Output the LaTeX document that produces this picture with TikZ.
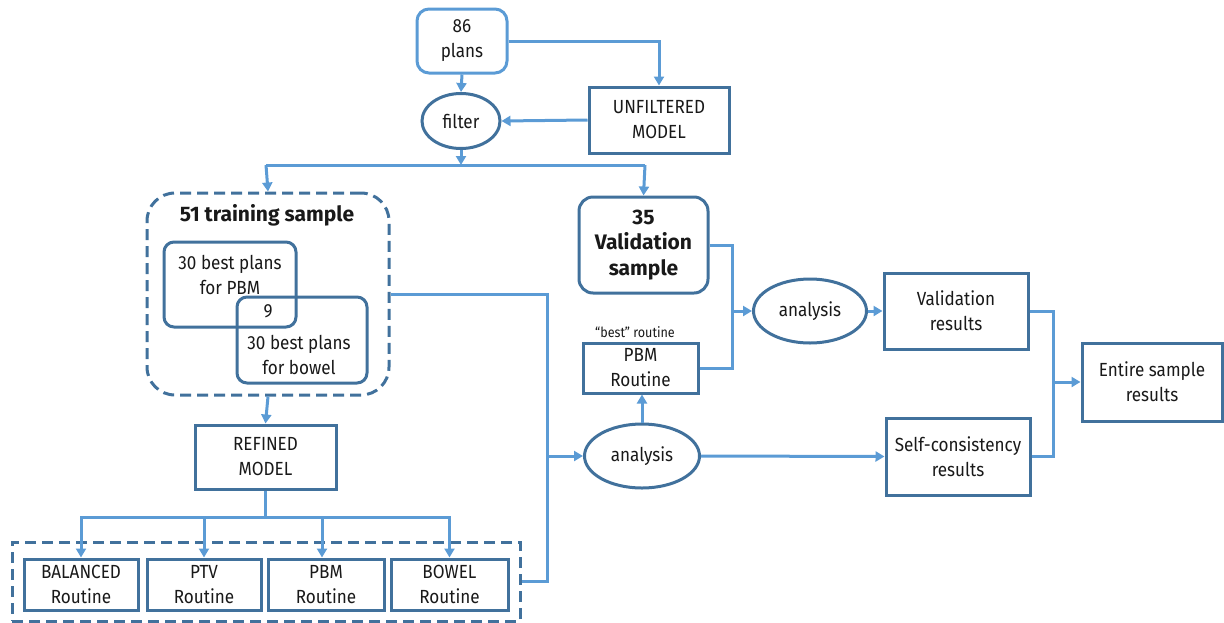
\documentclass[tikz,border=0pt]{standalone}
\usepackage{fontspec}
\setmainfont{Fira Sans}[FakeStretch=0.9,BoldFeatures={FakeStretch=1}]
\usetikzlibrary{arrows.meta,shapes.geometric,calc}
\definecolor{lb}{HTML}{5B9BD5}
\definecolor{db}{HTML}{41719C}
\begin{document}
\begin{tikzpicture}[x=1pt,y=-1pt,
 every node/.style={font=\fontsize{19}{25}\selectfont, align=center, inner sep=0pt, text=black!90},
 box/.style={draw=db, line width=3pt, rectangle},
 rbox/.style={box, rounded corners=12pt},
 oval/.style={draw=db, line width=3pt, ellipse},
 conn/.style={draw=lb, line width=3pt},
 arr/.style={conn, -{Triangle[length=9pt,width=10pt]}},
 dbox/.style={draw=db, line width=3pt, dash pattern=on 11pt off 6pt},
 bold/.style={font=\fontsize{21}{25.5}\selectfont\bfseries},
 small/.style={font=\fontsize{14}{16}\selectfont},
]
\useasboundingbox (0,0) rectangle (1224,622);
% top
\node[rbox, draw=lb, minimum width=90pt, minimum height=64pt] (plans) at (462,41) {86\\plans};
\node[oval, minimum width=78pt, minimum height=55pt] (filter) at (461,121) {filter};
\node[box, minimum width=140pt, minimum height=66pt] (unf) at (659,120) {UNFILTERED\\MODEL};
% training
\node[dbox, rounded corners=28pt, minimum width=242pt, minimum height=202pt] (train) at (268,294) {};
\node[bold] (traint) at (267,215) {51 training sample};
\node[rbox, rounded corners=10pt, minimum width=132pt, minimum height=85pt] (pbm30) at (230,284.5) {};
\node (pbm30t) at (230,274.5) {30 best plans\\for PBM};
\node[rbox, rounded corners=10pt, minimum width=130pt, minimum height=86pt] (bow30) at (302,340) {};
\node (ninet) at (268,311) {9};
\node (bow30t) at (299,355) {30 best plans\\for bowel};
% refined
\node[box, minimum width=141pt, minimum height=64pt] (refined) at (265.5,457) {REFINED\\MODEL};
% routines
\node[dbox, minimum width=508pt, minimum height=79pt] (routines) at (266,581.5) {};
\node[box, minimum width=114pt, minimum height=51pt] (bal) at (81,584.5) {BALANCED\\Routine};
\node[box, minimum width=114pt, minimum height=51pt] (ptv) at (204,584.5) {PTV\\Routine};
\node[box, minimum width=116pt, minimum height=51pt] (pbm) at (326,584.5) {PBM\\Routine};
\node[box, minimum width=117pt, minimum height=51pt] (bow) at (449.5,584.5) {BOWEL\\Routine};
% validation side
\node[rbox, rounded corners=14pt, minimum width=129pt, minimum height=96pt, bold] (val) at (643.5,245) {35\\Validation\\sample};
\node[small] (bestt) at (635,332) {“best” routine};
\node[box, minimum width=115pt, minimum height=50pt] (pbmr) at (640.5,368) {PBM\\Routine};
\node[oval, minimum width=113pt, minimum height=64pt] (an1) at (810,311) {analysis};
\node[oval, minimum width=115pt, minimum height=64pt] (an2) at (642,456) {analysis};
\node[box, minimum width=144pt, minimum height=76pt] (vres) at (956,311) {Validation\\results};
\node[box, minimum width=144pt, minimum height=77pt] (self) at (958,456.5) {Self-consistency\\results};
\node[box, minimum width=140pt, minimum height=78pt] (entire) at (1152,382) {Entire sample\\results};
% junctions
\coordinate (busL) at (266,165);
\coordinate (busR) at (645,165);
\coordinate (busM) at (461,165);
\coordinate (j3) at (547,456);
\coordinate (j4) at (732,311);
\coordinate (j5) at (1053,382);
\coordinate (rbus) at (265.5,517);
% connectors
\draw[arr] (plans.east) -| (unf.north);
\draw[arr] (plans.south) -- (filter.north);
\draw[arr] (unf.west) -- (filter.east);
\draw[arr] (filter.south) -- (busM);
\draw[conn] (busL) -- (busR);
\draw[arr] (busL) -- (train.north);
\draw[arr] (busR) -- (val.north);
\draw[arr] (train.south) -- (refined.north);
\draw[conn] (refined.south) -- (rbus);
\draw[arr] (rbus) -| (bal.north);
\draw[arr] (rbus) -| (ptv.north);
\draw[arr] (rbus) -| ($(pbm.north)+(-4,0)$);
\draw[arr] (rbus) -| (bow.north);
\draw[conn] (train.east) -| (j3);
\draw[conn] (routines.east) -| (j3);
\draw[arr] (j3) -- (an2.west);
\draw[conn] (val.east) -| (j4);
\draw[conn] (pbmr.east) -| (j4);
\draw[arr] (j4) -- (an1.west);
\draw[arr] (an2.north) -- (an2.north |- pbmr.south);
\draw[arr] (an1.east) -- (vres.west);
\draw[arr] (an2.east) -- (self.west);
\draw[conn] (vres.east) -| (j5);
\draw[conn] (self.east) -| (j5);
\draw[arr] (j5) -- (entire.west);
\end{tikzpicture}
\end{document}
